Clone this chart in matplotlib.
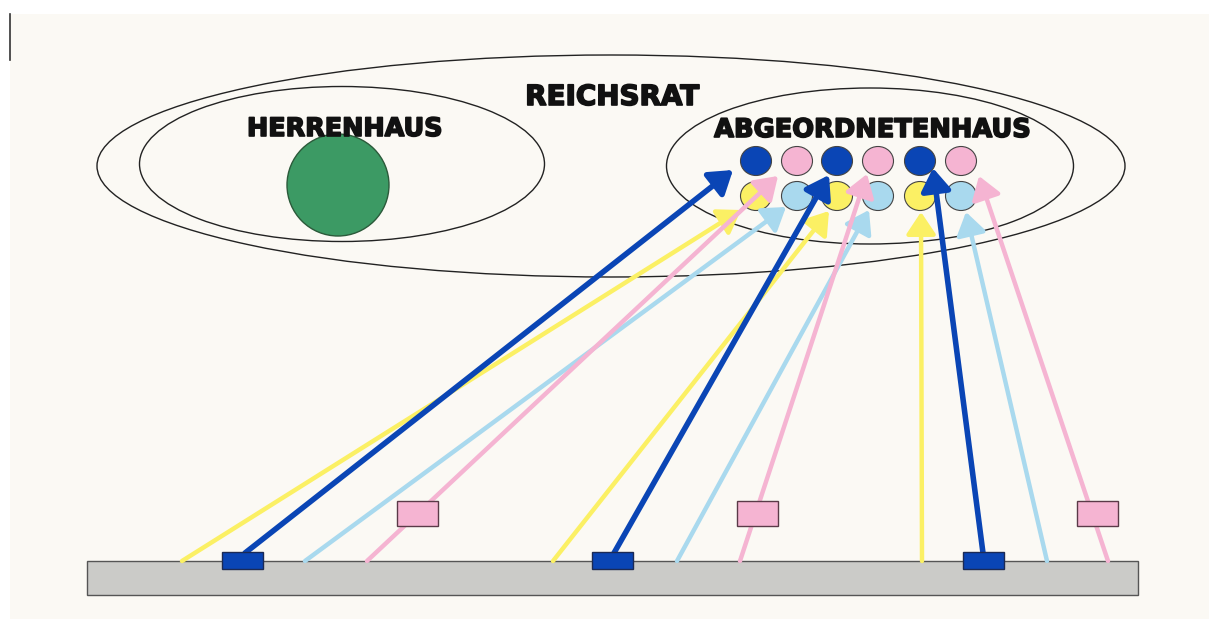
import matplotlib.pyplot as plt
import matplotlib.patheffects as pe
from matplotlib.patches import Ellipse, Circle, Rectangle, FancyArrowPatch

# colours used in the diagram
DARKBLUE = '#0a45b5'
PINK = '#f5b4d2'
YELLOW = '#fbf064'
LIGHTBLUE = '#a9d9ee'
GREEN = '#3c9a64'
GREY = '#cbcbc8'
PAPER = '#fbf9f4'

# seats in the Abgeordnetenhaus (two rows of six)
seat_x = [756, 797, 837, 878, 920, 961]
top_row_colors = [DARKBLUE, PINK, DARKBLUE, PINK, DARKBLUE, PINK]
bottom_row_colors = [YELLOW, LIGHTBLUE, YELLOW, LIGHTBLUE, YELLOW, LIGHTBLUE]
row_y = [161, 196]

# voting groups on the ground bar: blue box x, pink box x
blue_box_x = [242, 612, 983]
pink_box_x = [417, 757, 1097]

# arrows: colour, start (on bar), end (at seat)
arrow_colors = [YELLOW, DARKBLUE, LIGHTBLUE, PINK,
                YELLOW, DARKBLUE, LIGHTBLUE, PINK,
                YELLOW, DARKBLUE, LIGHTBLUE, PINK]
arrow_start = [(182, 561), (245, 553), (305, 561), (367, 561),
               (553, 561), (614, 553), (677, 561), (740, 561),
               (922, 561), (983, 553), (1047, 561), (1108, 561)]
arrow_end = [(741, 210), (733, 170), (786, 207), (778, 176),
             (829, 211), (829, 175), (869, 210), (867, 174),
             (921, 212), (933, 168), (966, 212), (979, 176)]

# labels: text, x, y, size
labels = [('REICHSRAT', 612, 97, 20), ('HERRENHAUS', 345, 129, 18.3),
          ('ABGEORDNETENHAUS', 873, 130, 18.5)]

fig = plt.figure(figsize=(12.09, 6.19), dpi=100)
fig.patch.set_facecolor('white')
ax = fig.add_axes([0, 0, 1, 1])
ax.set_xlim(0, 1209)
ax.set_ylim(619, 0)
ax.axis('off')

# scanned page
ax.add_patch(Rectangle((10, 14), 1199, 605, facecolor=PAPER, edgecolor='none', zorder=0))
ax.plot([10, 10], [14, 60], color='#333333', lw=1.2, zorder=1)

# chambers
ax.add_patch(Ellipse((611, 166), 1028, 222, fill=False, edgecolor='#222222', lw=1.0, zorder=2))
ax.add_patch(Ellipse((342, 164), 405, 155, fill=False, edgecolor='#222222', lw=1.0, zorder=2))
ax.add_patch(Ellipse((870, 166), 407, 156, fill=False, edgecolor='#222222', lw=1.0, zorder=2))
ax.add_patch(Circle((338, 185), 51, facecolor=GREEN, edgecolor='#2b5a3a', lw=1.0, zorder=3))

heavy = [pe.withStroke(linewidth=1.2, foreground='#111111')]
for label, x, y, size in labels:
    ax.text(x, y, label, ha='center', va='center', fontsize=size, fontweight='bold',
            family='DejaVu Sans', color='#111111', path_effects=heavy, zorder=5)

# seats
for x, c in zip(seat_x, top_row_colors):
    ax.add_patch(Ellipse((x, row_y[0]), 31, 29, facecolor=c, edgecolor='#444444', lw=0.8, zorder=4))
for x, c in zip(seat_x, bottom_row_colors):
    ax.add_patch(Ellipse((x, row_y[1]), 31, 29, facecolor=c, edgecolor='#444444', lw=0.8, zorder=4))

# ground bar
ax.add_patch(Rectangle((87, 561), 1051, 34, facecolor=GREY, edgecolor='#555555', lw=1.0, zorder=2))

# arrows
for c, s, e in zip(arrow_colors, arrow_start, arrow_end):
    lw = 4.0 if c == DARKBLUE else 3.2
    ax.add_patch(FancyArrowPatch(s, e, arrowstyle='-|>,head_length=0.45,head_width=0.3',
                                 mutation_scale=30, color=c, lw=lw, shrinkA=0, shrinkB=0,
                                 zorder=6 if c == DARKBLUE else 5))

# boxes
for x in blue_box_x:
    ax.add_patch(Rectangle((x - 20, 552), 41, 17, facecolor=DARKBLUE, edgecolor='#1b2a55', lw=1.0, zorder=7))
for x in pink_box_x:
    ax.add_patch(Rectangle((x - 20, 501), 41, 25, facecolor=PINK, edgecolor='#5a3a48', lw=1.0, zorder=7))

fig.savefig('out.png', dpi=100, facecolor=fig.get_facecolor())
